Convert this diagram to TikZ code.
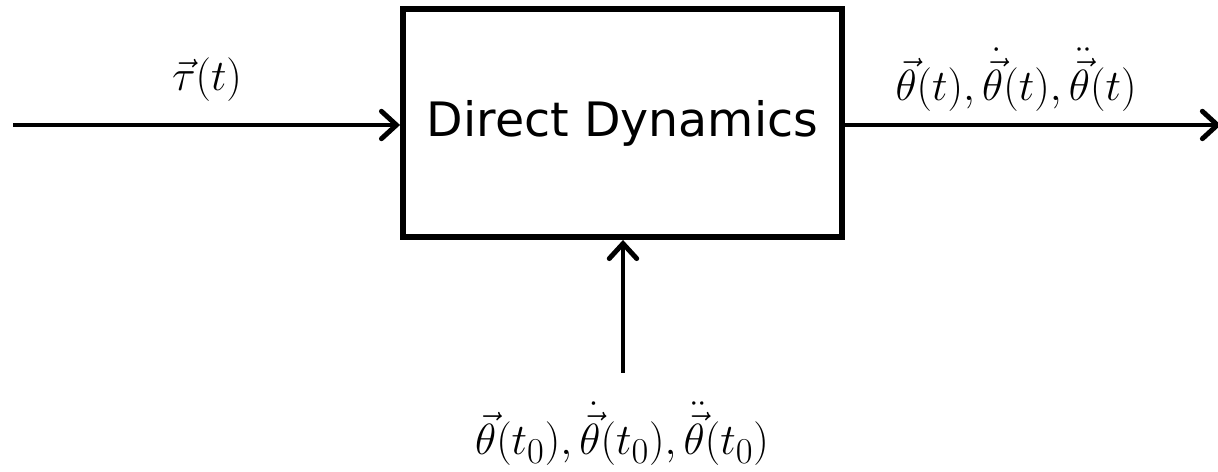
\documentclass[tikz,border=0pt]{standalone}
\usepackage{amsmath}
\usepackage{fontspec}
\setmainfont{DejaVu Sans}
\usepackage{tikz}
\usetikzlibrary{arrows.meta, positioning}

\begin{document}
\begin{tikzpicture}[x=0.02cm, y=-0.02cm,
		flow/.style={line width=2.8pt, -{Straight Barb[length=0.3cm, width=0.55cm, line cap=round]}},
		mathlabel/.style={font=\fontsize{28}{32}\selectfont}]
			\useasboundingbox (0,0) rectangle (1218,472);
			
			\node[draw, line width=3.4pt, minimum width=8.78cm, minimum height=4.56cm, inner sep=0pt,
				font=\fontsize{27}{32}\selectfont] (dyn) at (622.5,123) {Direct Dynamics};
			
			\coordinate (tin) at (13,125);
			\coordinate (thout) at (1221,125);
			\coordinate (thinit) at (623,373);
			
			\draw[flow] (tin) -- (tin -| dyn.west);
			\draw[flow, shorten <=-1.7pt] (thout -| dyn.east) -- (thout);
			\draw[flow] (thinit) -- (thinit |- dyn.south);
			
			\node[mathlabel] (taulbl) at (207,80) {$\vec{\tau}(t)$};
			\node[mathlabel] (outlbl) at (1016,80) {$\vec{\theta}(t),\dot{\vec{\theta}}(t),\ddot{\vec{\theta}}(t)$};
			\node[mathlabel] (initlbl) at (622,434) {$\vec{\theta}(t_0),\dot{\vec{\theta}}(t_0),\ddot{\vec{\theta}}(t_0)$};
		\end{tikzpicture}
\end{document}
